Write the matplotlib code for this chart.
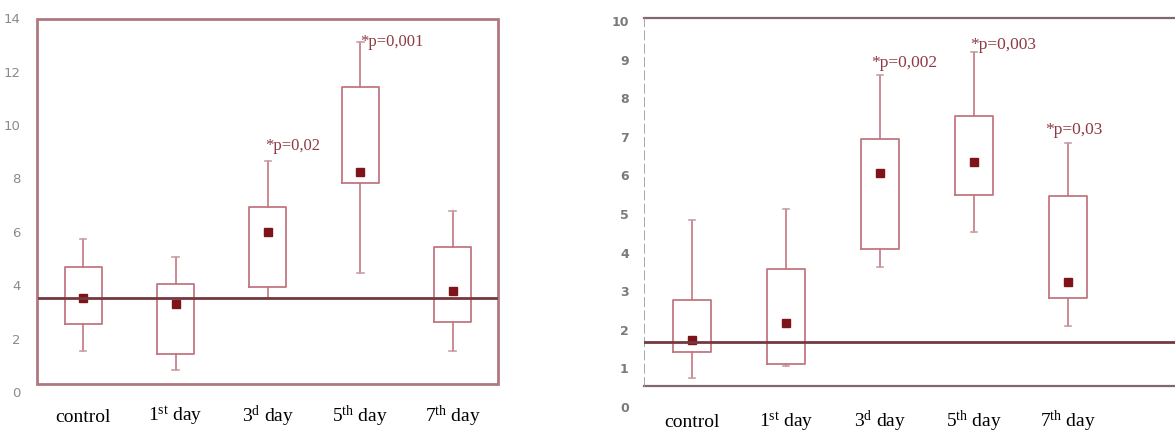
import matplotlib

matplotlib.use("Agg")

import matplotlib.pyplot as plt
import matplotlib.transforms as mtransforms
from matplotlib.patches import Rectangle

plt.rcParams["mathtext.fontset"] = "custom"
plt.rcParams["mathtext.rm"] = "Liberation Serif"
plt.rcParams["mathtext.it"] = "Liberation Serif:italic"

DAYS = ["control", r"$1^{\mathrm{st}}$ day", r"$3^{\mathrm{d}}$ day",
        r"$5^{\mathrm{th}}$ day", r"$7^{\mathrm{th}}$ day"]

# left panel
L_WHIS_LO = [1.5, 0.8, 3.5, 4.4, 1.5]
L_Q1 = [2.5, 1.4, 3.9, 7.8, 2.6]
L_MEAN = [3.5, 3.25, 5.95, 8.2, 3.75]
L_Q3 = [4.65, 4.0, 6.9, 11.4, 5.4]
L_WHIS_HI = [5.7, 5.0, 8.6, 13.05, 6.75]
L_REF = 3.5
L_TICKS = [0, 2, 4, 6, 8, 10, 12, 14]

# right panel
R_WHIS_LO = [0.73, 1.04, 3.59, 4.52, 2.06]
R_Q1 = [1.41, 1.09, 4.07, 5.47, 2.8]
R_MEAN = [1.72, 2.15, 6.04, 6.33, 3.2]
R_Q3 = [2.75, 3.55, 6.92, 7.5, 5.45]
R_WHIS_HI = [4.83, 5.10, 8.58, 9.16, 6.81]
R_REF = 1.67
R_TICKS = list(range(11))

# significance labels: (group, text, x shift, y)
L_NOTES = [(2, "*p=0,02", -0.03, 9.2), (3, "*p=0,001", 0.0, 13.1)]
R_NOTES = [(2, "*p=0,002", -0.09, 8.9), (3, "*p=0,003", -0.04, 9.38),
           (4, "*p=0,03", -0.24, 7.17)]

BOX = "#c27780"
MARK = "#7e1419"
REF = "#74393e"
NOTE = "#8e3b45"
SERIF = "Liberation Serif"


def draw_boxes(ax, lo, q1, mean, q3, hi):
    stats = []
    for i in range(len(lo)):
        stats.append(dict(whislo=lo[i], q1=q1[i], med=mean[i], q3=q3[i],
                          whishi=hi[i], mean=mean[i]))
    ax.bxp(stats, positions=range(len(stats)), widths=0.4, capwidths=0.07,
           showmeans=True, showfliers=False, manage_ticks=False,
           boxprops=dict(color=BOX, linewidth=1.3),
           whiskerprops=dict(color=BOX, linewidth=1.2),
           capprops=dict(color="#c9a0a5", linewidth=1.2),
           medianprops=dict(linewidth=0),
           meanprops=dict(marker="s", markersize=6, markerfacecolor=MARK,
                          markeredgecolor=MARK), zorder=3)


def day_labels(ax, pad):
    ax.set_xticks(range(len(DAYS)), DAYS)
    ax.tick_params(axis="x", length=0, pad=pad, labelsize=14)
    for t in ax.get_xticklabels():
        t.set_fontfamily(SERIF)
        t.set_verticalalignment("baseline")


fig = plt.figure(figsize=(11.75, 4.35), dpi=100, facecolor="white")

# ---- left ----
ax1 = fig.add_axes([0.0315, 0.0977, 0.3923, 0.8637])
ax1.set_xlim(-0.5, 4.49)
ax1.set_ylim(-0.02, 14.05)
for s in ax1.spines.values():
    s.set_visible(False)
draw_boxes(ax1, L_WHIS_LO, L_Q1, L_MEAN, L_Q3, L_WHIS_HI)
ax1.axhline(L_REF, xmin=0.005, xmax=0.995, color=REF, linewidth=2, zorder=4)
tr1 = mtransforms.blended_transform_factory(ax1.transAxes, ax1.transData)
ax1.add_patch(Rectangle((0, 0.26), 1, 13.93 - 0.26, transform=tr1,
                        fill=False, edgecolor="#b07880", linewidth=2,
                        clip_on=False, zorder=2))
ax1.set_yticks(L_TICKS)
ax1.tick_params(axis="y", length=0, pad=12, labelsize=9.5, labelcolor="#8a8a8a")
day_labels(ax1, 21)
for g, txt, dx, y in L_NOTES:
    ax1.text(g + dx, y, txt, color=NOTE, fontsize=12, family=SERIF,
             ha="left", va="center")

# ---- right ----
ax2 = fig.add_axes([0.5481, 0.0626, 0.4519, 0.898])
ax2.set_xlim(-0.51, 5.14)
ax2.set_ylim(-0.02, 10.1)
for s in ax2.spines.values():
    s.set_visible(False)
draw_boxes(ax2, R_WHIS_LO, R_Q1, R_MEAN, R_Q3, R_WHIS_HI)
ax2.axhline(R_REF, color=REF, linewidth=2, zorder=4)
ax2.axhline(10.05, color="#80686e", linewidth=1.6, clip_on=False)
ax2.axhline(0.52, color="#80686e", linewidth=1.6, clip_on=False)
ax2.axvline(-0.51, ymin=0.05, ymax=0.995, color="#9a9a9a", linewidth=1.2,
            linestyle=(0, (6, 2)))
ax2.set_yticks(R_TICKS)
ax2.tick_params(axis="y", length=0, pad=11, labelsize=9, labelcolor="#7a7a7a")
for t in ax2.get_yticklabels():
    t.set_fontweight("bold")
day_labels(ax2, 14)
for g, txt, dx, y in R_NOTES:
    ax2.text(g + dx, y, txt, color=NOTE, fontsize=12.5, family=SERIF,
             ha="left", va="center")

fig.savefig("out.png", dpi=100, facecolor=fig.get_facecolor())
